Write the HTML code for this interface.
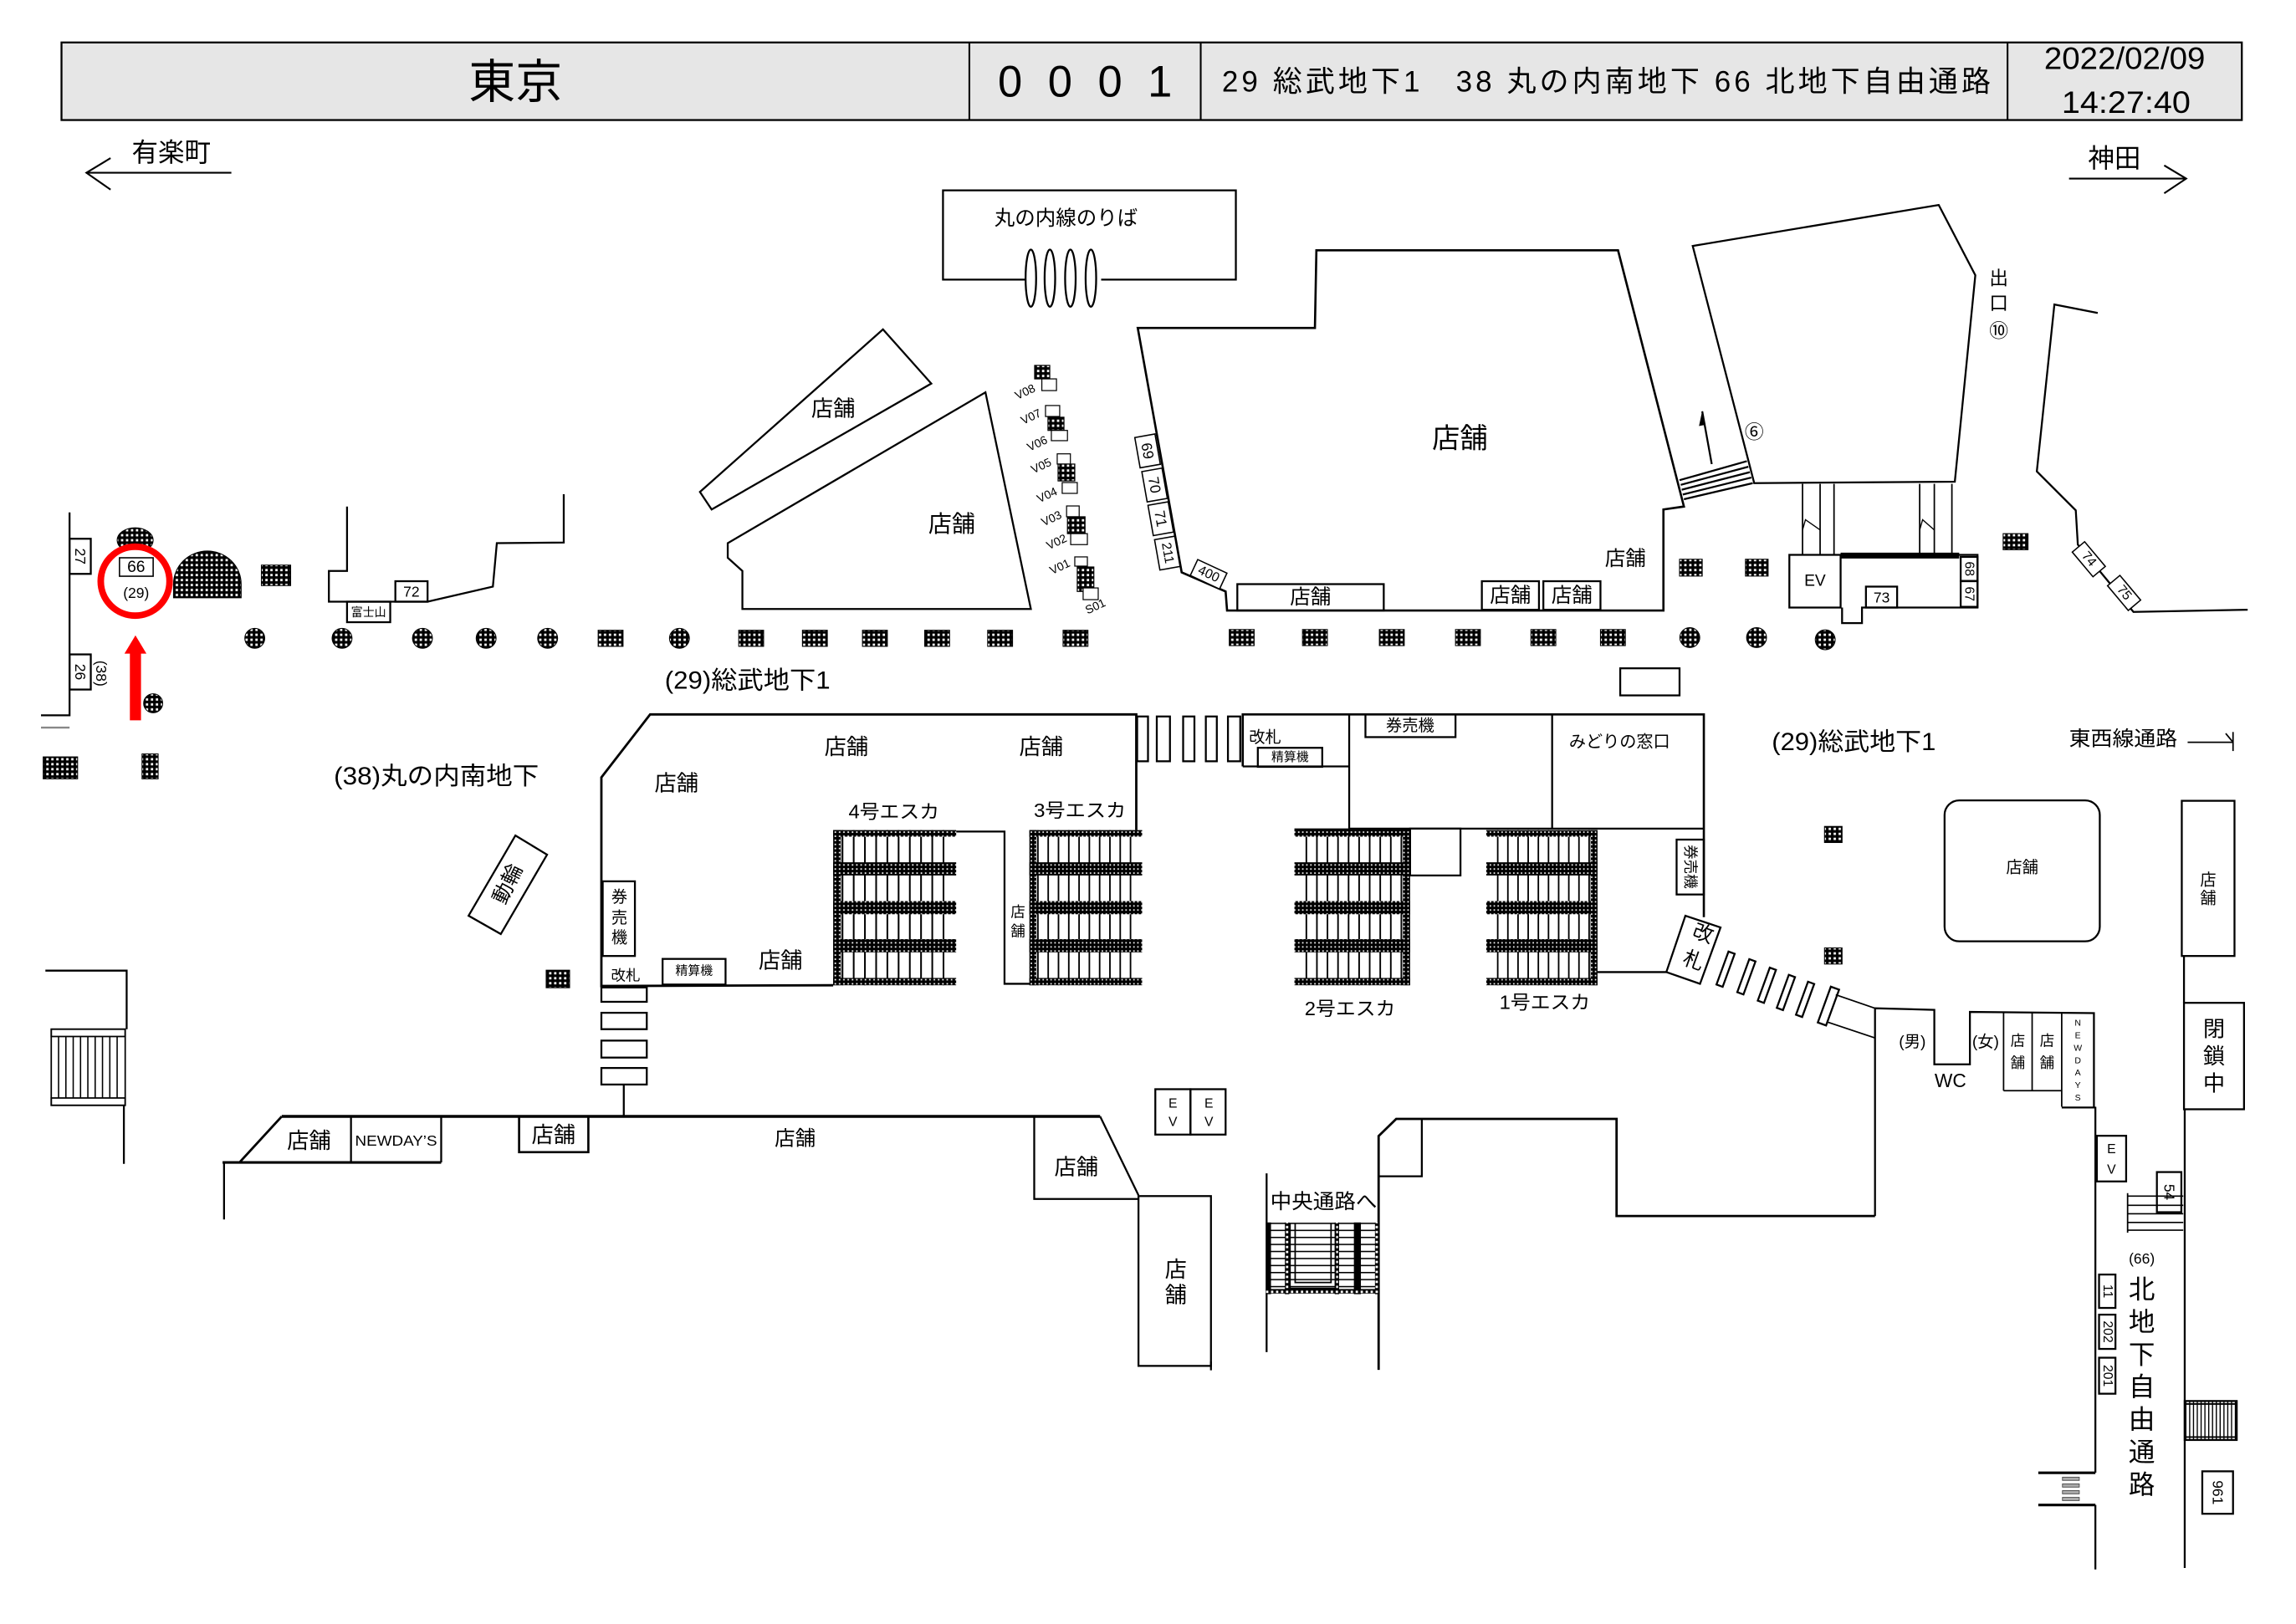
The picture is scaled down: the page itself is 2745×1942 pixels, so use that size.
<!DOCTYPE html>
<html><head><meta charset="utf-8"><style>
html,body{margin:0;padding:0;background:#fff;}
svg{display:block;}
text{font-family:"Liberation Sans","Noto Sans CJK JP",sans-serif;fill:#000;stroke:none;}
.c text{text-anchor:middle;dominant-baseline:central;}
</style></head><body>
<svg width="2745" height="1942" viewBox="0 0 1568 1109.3" preserveAspectRatio="none" xmlns="http://www.w3.org/2000/svg">
<defs>
<pattern id="dots" width="2.8" height="2.8" patternUnits="userSpaceOnUse"><rect width="2.8" height="2.8" fill="#000"/><rect x="0.9" y="0.9" width="1" height="1" fill="#fff"/></pattern>
<pattern id="dots2" width="3.4" height="3.4" patternUnits="userSpaceOnUse"><rect width="3.4" height="3.4" fill="#000"/><rect x="1" y="1" width="1.6" height="1.6" fill="#fff"/></pattern>
<pattern id="hl" width="10" height="4.8" patternUnits="userSpaceOnUse"><rect width="10" height="0.9" fill="#000"/></pattern>
<pattern id="vl2" width="2.6" height="10" patternUnits="userSpaceOnUse"><rect width="0.8" height="10" fill="#000"/></pattern>
<g id="esc">
 <rect x="0" y="0" width="5" height="106" fill="url(#dots)"/>
 <g fill="#000">
  <rect x="5.5" y="0" width="1.1" height="106"/><rect x="12.8" y="0" width="1.1" height="106"/>
  <rect x="20.1" y="0" width="1.1" height="106"/><rect x="27.4" y="0" width="1.1" height="106"/>
  <rect x="34.7" y="0" width="1.1" height="106"/><rect x="42" y="0" width="1.1" height="106"/>
  <rect x="49.3" y="0" width="1.1" height="106"/><rect x="56.6" y="0" width="1.1" height="106"/>
  <rect x="63.9" y="0" width="1.1" height="106"/><rect x="71.2" y="0" width="1.1" height="106"/>
 </g>
 <rect x="0" y="0" width="80" height="4.5" fill="url(#dots)"/>
 <rect x="0" y="22" width="80" height="9" fill="url(#dots)"/>
 <rect x="0" y="48.5" width="80" height="9" fill="url(#dots)"/>
 <rect x="0" y="74.5" width="80" height="9" fill="url(#dots)"/>
 <rect x="0" y="101" width="80" height="5" fill="url(#dots)"/>
</g>
</defs>

<!-- HEADER -->
<rect x="42" y="29" width="1489" height="53" fill="#e6e6e6" stroke="#000" stroke-width="1.3"/>
<g stroke="#000" stroke-width="1.2">
<line x1="662" y1="29" x2="662" y2="82"/><line x1="820" y1="29" x2="820" y2="82"/><line x1="1371" y1="29" x2="1371" y2="82"/>
</g>
<g class="c">
<text x="352" y="56" font-size="32">東京</text>
<text x="741" y="56" font-size="30" textLength="119" lengthAdjust="spacing">0001</text>
<text x="1097" y="56" font-size="20" textLength="525" lengthAdjust="spacing">29 総武地下1　38 丸の内南地下 66 北地下自由通路</text>
<text x="1451" y="40" font-size="21" textLength="110" lengthAdjust="spacingAndGlyphs">2022/02/09</text>
<text x="1452" y="70" font-size="21" textLength="88" lengthAdjust="spacingAndGlyphs">14:27:40</text>
</g>

<!-- direction arrows -->
<g fill="none" stroke="#000" stroke-width="1.2">
<polyline points="75.5,108 59,118 75.5,129.5"/><line x1="59" y1="118" x2="158" y2="118"/>
<polyline points="1478,113 1493,122 1478,132"/><line x1="1413" y1="122" x2="1493" y2="122"/>
</g>
<g class="c">
<text x="117" y="104" font-size="18">有楽町</text>
<text x="1444" y="108" font-size="18">神田</text>
</g>

<!-- MAP WALLS -->
<g fill="none" stroke="#000" stroke-width="1.3">
<polyline points="700,191 644,191 644,130 844,130 844,191 752,191"/>
<ellipse cx="704" cy="190" rx="3.6" ry="19.5"/><ellipse cx="717" cy="190" rx="3.6" ry="19.5"/>
<ellipse cx="731" cy="190" rx="3.6" ry="19.5"/><ellipse cx="745" cy="190" rx="3.6" ry="19.5"/>
<polygon points="478,336 603,225 636,262 486,348"/>
<polygon points="673,268 704,416 507,416 507,390 497,381 497,371"/>
<polygon stroke-width="1.5" points="777,224 898,224 899,171 1105,171 1150,346 1136,348 1136,417 838,417 837,404 807,391"/>
<rect x="845" y="399" width="100" height="18"/>
<rect x="1012" y="397" width="39" height="19.5"/>
<rect x="1054" y="397" width="39" height="19.5"/>
<line x1="1147" y1="328" x2="1193" y2="315"/><line x1="1147.8" y1="331.2" x2="1194" y2="318.8"/>
<line x1="1148.5" y1="334.5" x2="1195" y2="322.5"/><line x1="1149.2" y1="337.8" x2="1196" y2="326.2"/>
<line x1="1150" y1="341" x2="1197" y2="330"/>
<line x1="1169" y1="317" x2="1162.5" y2="281"/>
<polygon points="1156,168 1324,140 1349,188 1335,329 1198,330"/>
<line x1="1231" y1="330.5" x2="1231" y2="379" stroke-width="1"/><line x1="1243" y1="330.5" x2="1243" y2="379" stroke-width="1"/><line x1="1252.5" y1="330.5" x2="1252.5" y2="379" stroke-width="1"/>
<line x1="1311" y1="330.5" x2="1311" y2="379" stroke-width="1"/><line x1="1321" y1="330.5" x2="1321" y2="379" stroke-width="1"/><line x1="1333" y1="330.5" x2="1333" y2="379" stroke-width="1"/>
<polyline points="1231,362 1233,355 1243,362" stroke-width="0.8"/><polyline points="1311,362 1313,355 1321,362" stroke-width="0.8"/>
<rect x="1222" y="379" width="35" height="36"/>
<polyline points="1257,379 1350.5,379 1350.5,415 1271.6,415 1271.6,425.6 1258,425.6 1258,415"/>
<rect x="1274.3" y="400.7" width="21.3" height="14.3"/>
<rect x="1339" y="380.4" width="11.5" height="16.4"/>
<rect x="1339" y="397" width="11.5" height="17.5"/>
<polyline points="1432.6,213.8 1403,208 1391,322 1417.6,348.6 1419,372 1457,418 1535,416.5"/>
<rect x="1106.5" y="456.5" width="40.5" height="18.5"/>
<polyline points="237,346 237,390 224.6,390 224.6,411 292,411 336.6,400.7 339.3,371 385,370.6 385,337.6"/>
<rect x="237" y="411" width="29.5" height="14"/>
<rect x="270" y="397" width="22" height="14"/>
<polyline points="47.5,350 47.5,488.6 28,488.6"/>
<line x1="28" y1="497" x2="47.5" y2="497" stroke="#888"/>
<rect x="47.5" y="368" width="14.5" height="24"/>
<rect x="47.5" y="447" width="14.5" height="24"/>
<polygon points="352,570.7 373.6,583.8 342,638 320,625.5"/>
<polyline points="31,663 86.5,663 86.5,703"/>
<line x1="84.6" y1="755" x2="84.6" y2="795"/>
<polyline stroke-width="1.6" points="776,567 776,488 444,488 410.7,531 410.7,673.5 569,673"/>
<rect x="410.7" y="674.5" width="31" height="9.8"/>
<rect x="410.7" y="691.8" width="31" height="11.2"/>
<rect x="410.7" y="710.8" width="31" height="11.6"/>
<rect x="410.7" y="729.5" width="31" height="11.3"/>
<line x1="426" y1="741" x2="426" y2="762.6"/>
<rect x="411.6" y="602" width="22" height="51"/>
<rect x="452.5" y="655" width="43" height="17.5"/>
<polyline points="653,568 686,568 686,672 703,672"/>
<rect x="776.6" y="489.4" width="7.4" height="30.6"/><rect x="790" y="489.4" width="9" height="30.6"/>
<rect x="808" y="489.4" width="7.7" height="30.6"/><rect x="823.5" y="489.4" width="7.5" height="30.6"/>
<rect x="838.6" y="489.4" width="8.4" height="30.6"/>
<polyline stroke-width="1.5" points="848.7,523.5 848.7,488 1163.6,488 1163.6,626.5"/>
<line x1="848.7" y1="523.5" x2="921.4" y2="523.5"/>
<line x1="921.4" y1="488" x2="921.4" y2="566"/>
<line x1="1060" y1="488" x2="1060" y2="566"/>
<line x1="921.4" y1="566" x2="1163.6" y2="566"/>
<rect x="859" y="510.8" width="44" height="13"/>
<rect x="932.5" y="488" width="61.5" height="15.5"/>
<rect x="963" y="566" width="34.4" height="32"/>
<line x1="884" y1="566.5" x2="963" y2="566.5"/>
<rect x="1145" y="573.5" width="18.6" height="37.5"/>
<polygon points="1151,625.5 1175,633.5 1161,672 1138,664"/>
<line x1="1091" y1="664" x2="1138" y2="664"/>
<g transform="translate(1178.4,662) rotate(20)"><rect x="-2.2" y="-12" width="4.5" height="24"/></g>
<g transform="translate(1192.6,667.2) rotate(20)"><rect x="-2.2" y="-12" width="4.5" height="24"/></g>
<g transform="translate(1206.6,673) rotate(20)"><rect x="-2.2" y="-12" width="4.5" height="24"/></g>
<g transform="translate(1219.6,677.9) rotate(20)"><rect x="-2.2" y="-12" width="4.5" height="24"/></g>
<g transform="translate(1232.7,682.6) rotate(20)"><rect x="-2.2" y="-12" width="4.5" height="24"/></g>
<g transform="translate(1248.7,687.2) rotate(20)"><rect x="-3" y="-13" width="6" height="26"/></g>
<line x1="1253.7" y1="679.5" x2="1280.5" y2="688.7" stroke-width="1"/>
<line x1="1247.6" y1="698" x2="1280.5" y2="709" stroke-width="1"/>
<polyline points="1280.5,830.6 1280.5,688.7 1321,689.8 1321,727 1345.3,727 1345.3,691.2 1430,692 1430,756"/>
<line x1="1368.3" y1="692" x2="1368.3" y2="745" stroke-width="1"/>
<line x1="1387.8" y1="692" x2="1387.8" y2="745" stroke-width="1"/>
<line x1="1408" y1="692" x2="1408" y2="756" stroke-width="1"/>
<line x1="1368.3" y1="745" x2="1408" y2="745" stroke-width="1"/>
<line x1="1408" y1="756.5" x2="1431" y2="756.5"/>
<line x1="1431" y1="756" x2="1431" y2="1006"/>
<line x1="1431" y1="1028" x2="1431" y2="1072"/>
<polyline points="1280.5,830.6 1104,830.6 1104,764.3 953.5,764.3 941.5,776 941.5,935.7" stroke-width="1.6"/>
<polyline points="941.5,803.5 971,803.5 971,764.3"/>
<line x1="865" y1="801.5" x2="865" y2="923.6"/>
<rect x="1490" y="547" width="36" height="106"/>
<line x1="1491.5" y1="653" x2="1491.5" y2="685"/>
<rect x="1491.5" y="685" width="41" height="72.7"/>
<line x1="1492" y1="757.7" x2="1492" y2="1071"/>
<rect x="1432" y="775.8" width="20" height="31.2"/>
<rect x="1473" y="800.6" width="16.7" height="27.4"/>
<line x1="1453" y1="815" x2="1453" y2="842" stroke-width="1"/>
<line x1="1453" y1="817" x2="1491" y2="817" stroke-width="0.9"/><line x1="1453" y1="823.3" x2="1491" y2="823.3" stroke-width="0.9"/>
<line x1="1453" y1="829.1" x2="1491" y2="829.1" stroke-width="0.9"/><line x1="1453" y1="835" x2="1491" y2="835" stroke-width="0.9"/>
<line x1="1453" y1="840.3" x2="1491" y2="840.3" stroke-width="0.9"/>
<rect x="1492" y="957" width="35.5" height="26.6" fill="url(#vl2)"/>
<rect x="1504" y="1005" width="21" height="29"/>
<rect x="1433.5" y="870.6" width="11.2" height="22.8"/>
<rect x="1433.5" y="898" width="11.2" height="23.4"/>
<rect x="1433.5" y="927.4" width="11.2" height="24.6"/>
<line x1="1392" y1="1006" x2="1431" y2="1006" stroke-width="1.8"/>
<line x1="1392" y1="1028" x2="1431" y2="1028" stroke-width="1.8"/>
<line x1="1494" y1="507" x2="1525" y2="507" stroke-width="1"/>
<line x1="1525" y1="500" x2="1525" y2="513" stroke-width="1"/>
<line x1="1520" y1="501" x2="1525" y2="507" stroke-width="1"/>
<rect x="1328" y="546.7" width="106" height="96.3" rx="10"/>
<line x1="192.4" y1="762.6" x2="751.3" y2="762.6" stroke-width="2"/>
<line x1="192.4" y1="762.6" x2="164" y2="793.5" stroke-width="1.6"/>
<line x1="152" y1="794" x2="301.3" y2="794" stroke-width="1.8"/>
<line x1="239.7" y1="762.6" x2="239.7" y2="794"/>
<line x1="301.3" y1="762.6" x2="301.3" y2="794"/>
<line x1="153" y1="794" x2="153" y2="833"/>
<rect x="354.5" y="762.6" width="47.3" height="24.4" stroke-width="1.5"/>
<polyline points="706.3,763 706.3,819 777.5,819"/>
<line x1="751.3" y1="762.6" x2="777.5" y2="816.4"/>
<rect x="777.5" y="817" width="49.5" height="116"/>
<line x1="827" y1="930" x2="827" y2="936"/>
<rect x="789" y="744" width="24" height="31"/>
<rect x="813" y="744" width="24" height="31"/>
</g>

<rect x="1257" y="377.5" width="81" height="4" fill="#000"/>
<g fill="#aaa" stroke="#444" stroke-width="0.5">
<rect x="1408.5" y="1009" width="11.5" height="2.2"/><rect x="1408.5" y="1013.6" width="11.5" height="2.2"/>
<rect x="1408.5" y="1018.2" width="11.5" height="2.2"/><rect x="1408.5" y="1022.8" width="11.5" height="2.2"/>
</g>
<g fill="none" stroke="#000" stroke-width="1.1">
<rect x="1492" y="957" width="35.5" height="26.6"/>
<line x1="1492" y1="959" x2="1527.5" y2="959"/><line x1="1492" y1="981.6" x2="1527.5" y2="981.6"/>
</g>
<g>
<rect x="35" y="703" width="50.5" height="52" fill="#fff" stroke="#000" stroke-width="1"/>
<rect x="35" y="703" width="50.5" height="5" fill="none" stroke="#000" stroke-width="1"/>
<rect x="35" y="750" width="50.5" height="5" fill="none" stroke="#000" stroke-width="1"/>
<g stroke="#000" stroke-width="0.9">
<line x1="40" y1="708" x2="40" y2="750"/><line x1="45" y1="708" x2="45" y2="750"/><line x1="50" y1="708" x2="50" y2="750"/>
<line x1="55" y1="708" x2="55" y2="750"/><line x1="60" y1="708" x2="60" y2="750"/><line x1="65" y1="708" x2="65" y2="750"/>
<line x1="70" y1="708" x2="70" y2="750"/><line x1="75" y1="708" x2="75" y2="750"/><line x1="80" y1="708" x2="80" y2="750"/>
</g>
</g>
<rect x="866" y="835" width="75" height="48.5" fill="url(#hl)"/>
<g fill="#000">
<rect x="864.5" y="835" width="3.5" height="49"/>
<rect x="924.6" y="835" width="4.8" height="49"/>
</g>
<g fill="url(#dots2)">
<rect x="877.5" y="835" width="3" height="49"/>
<rect x="911.5" y="835" width="3" height="49"/>
<rect x="939" y="835" width="2.5" height="49"/>
<rect x="864.5" y="880.5" width="77" height="3"/>
</g>
<g fill="none" stroke="#000" stroke-width="1">
<polyline points="881,836 881,880 912,880 912,836"/>
<polyline points="884.5,836 884.5,876 909,876 909,836"/>
</g>

<use href="#esc" transform="translate(569,567) scale(1.05,1)"/>
<use href="#esc" transform="translate(703,567) scale(0.9625,1)"/>
<use href="#esc" transform="translate(963,567) scale(-0.9875,1)"/>
<use href="#esc" transform="translate(1091,567) scale(-0.95,1)"/>

<g stroke="#000" stroke-width="0.7">
<rect x="706.6" y="249.6" width="10.3" height="9.2" fill="url(#dots2)"/><rect x="711.5" y="258.8" width="10" height="8" fill="#fff"/>
<rect x="714" y="277" width="9.7" height="7.5" fill="#fff"/><rect x="715.7" y="285" width="10.9" height="9" fill="url(#dots2)"/><rect x="718" y="294" width="11" height="7" fill="#fff"/>
<rect x="722" y="310" width="9" height="7" fill="#fff"/><rect x="722.6" y="317" width="11.4" height="11.5" fill="url(#dots2)"/><rect x="725.4" y="329.6" width="10.3" height="7.4" fill="#fff"/>
<rect x="728.4" y="345.6" width="8.6" height="7.4" fill="#fff"/><rect x="729" y="353" width="12" height="11.5" fill="url(#dots2)"/><rect x="731.2" y="364.5" width="11.4" height="7.5" fill="#fff"/>
<rect x="734" y="380.4" width="8.6" height="6.3" fill="#fff"/><rect x="735.7" y="387.3" width="11.3" height="16.7" fill="url(#dots2)"/><rect x="739.7" y="401.6" width="10.3" height="8" fill="#fff"/>
</g>

<g fill="#fff" stroke="#000" stroke-width="0.9">
<rect transform="translate(783.7,308) rotate(-10)" x="-7" y="-10.5" width="14" height="21"/>
<rect transform="translate(788.5,331.3) rotate(-10)" x="-7" y="-10.5" width="14" height="21"/>
<rect transform="translate(792.7,354.3) rotate(-10)" x="-7" y="-10.5" width="14" height="21"/>
<rect transform="translate(797.2,377.8) rotate(-10)" x="-7" y="-10.5" width="14" height="21"/>
<rect transform="translate(825.4,392.3) rotate(25)" x="-11" y="-6" width="22" height="12"/>
<rect transform="translate(1426.5,382) rotate(50)" x="-11" y="-5.5" width="22" height="11"/>
<rect transform="translate(1450.6,405) rotate(50)" x="-11" y="-5.5" width="22" height="11"/>
</g>

<g stroke="#000" stroke-width="0.6" fill="url(#dots2)">
<circle cx="174" cy="436" r="6.8"/><circle cx="233.6" cy="436" r="6.8"/><circle cx="288.5" cy="436" r="6.8"/>
<circle cx="332" cy="436" r="6.8"/><circle cx="374" cy="436" r="6.8"/><circle cx="464" cy="436" r="6.8"/>
<circle cx="1154" cy="435.5" r="6.8"/><circle cx="1199.6" cy="435.5" r="6.8"/><circle cx="1246.5" cy="437" r="6.8"/>
<circle cx="104.6" cy="480.4" r="6.5"/>
<rect x="408.5" y="430.5" width="17" height="11"/><rect x="504.5" y="430.5" width="17" height="11"/>
<rect x="548" y="430.5" width="17" height="11"/><rect x="589" y="430.5" width="17" height="11"/>
<rect x="631.5" y="430.5" width="17" height="11"/><rect x="674.5" y="430.5" width="17" height="11"/>
<rect x="726" y="430.5" width="17" height="11"/>
<rect x="839.5" y="430" width="17" height="11"/><rect x="889.5" y="430" width="17" height="11"/>
<rect x="942" y="430" width="17" height="11"/><rect x="994" y="430" width="17" height="11"/>
<rect x="1045.5" y="430" width="17" height="11"/><rect x="1093" y="430" width="17" height="11"/>
<rect x="178.5" y="386" width="20" height="14"/>
<rect x="1147" y="382" width="15.5" height="11.5"/><rect x="1192" y="382" width="15.5" height="11.5"/>
<rect x="1368" y="364.5" width="17" height="11"/>
<rect x="29.5" y="517" width="23.5" height="15"/><rect x="97" y="515" width="11" height="17"/>
<rect x="373" y="662.7" width="16" height="12"/>
<rect x="1246" y="564.5" width="12" height="11"/><rect x="1246" y="647.5" width="12" height="11"/>
<ellipse cx="92.3" cy="369" rx="12.3" ry="8.5"/>
<path d="M118.5,408.3 L118.5,399 A23,22.5 0 0 1 164.7,399 L164.7,408.3 Z"/>
</g>

<circle cx="92.3" cy="397" r="23.5" fill="#fff" stroke="#f00" stroke-width="4.5"/>
<rect x="81.6" y="381" width="23" height="12.6" fill="#fff" stroke="#000" stroke-width="0.9"/>
<polygon points="92.5,434 100,446.5 96.3,446.5 96.3,492 88.7,492 88.7,446.5 85,446.5" fill="#f00"/>

<g class="c">
<text x="728" y="149.5" font-size="14">丸の内線のりば</text>
<text x="569" y="279" font-size="15">店舗</text>
<text x="650" y="358" font-size="16">店舗</text>
<text x="997" y="300" font-size="19">店舗</text>
<text x="1110" y="382" font-size="14">店舗</text>
<text x="895" y="408" font-size="14">店舗</text>
<text x="1031.5" y="407" font-size="14">店舗</text>
<text x="1073.5" y="407" font-size="14">店舗</text>
<text x="1198" y="295" font-size="13">⑥</text>
<text x="1365" y="190" font-size="13">出</text>
<text x="1365" y="207" font-size="13">口</text>
<text x="1365" y="226" font-size="13">⑩</text>
<text x="1239.5" y="397" font-size="11">EV</text>
<text x="1285" y="408" font-size="10">73</text>
<text x="1344.7" y="388.6" font-size="9" transform="rotate(90 1344.7 388.6)">68</text>
<text x="1344.7" y="405.7" font-size="9" transform="rotate(90 1344.7 405.7)">67</text>
<text x="1426.5" y="382" font-size="9" transform="rotate(50 1426.5 382)">74</text>
<text x="1450.6" y="405" font-size="9" transform="rotate(50 1450.6 405)">75</text>
<text x="783.7" y="308" font-size="10" transform="rotate(80 783.7 308)">69</text>
<text x="788.5" y="331.3" font-size="10" transform="rotate(80 788.5 331.3)">70</text>
<text x="792.7" y="354.3" font-size="10" transform="rotate(80 792.7 354.3)">71</text>
<text x="797.2" y="377.8" font-size="9" transform="rotate(80 797.2 377.8)">211</text>
<text x="825.4" y="392.3" font-size="9" transform="rotate(25 825.4 392.3)">400</text>
<text x="700" y="267.5" font-size="8" transform="rotate(-25 700 267.5)">V08</text>
<text x="704" y="284.5" font-size="8" transform="rotate(-25 704 284.5)">V07</text>
<text x="708.3" y="302.8" font-size="8" transform="rotate(-25 708.3 302.8)">V06</text>
<text x="711" y="318" font-size="8" transform="rotate(-25 711 318)">V05</text>
<text x="715" y="338" font-size="8" transform="rotate(-25 715 338)">V04</text>
<text x="718" y="354" font-size="8" transform="rotate(-25 718 354)">V03</text>
<text x="721.5" y="370" font-size="8" transform="rotate(-25 721.5 370)">V02</text>
<text x="723.7" y="387" font-size="8" transform="rotate(-25 723.7 387)">V01</text>
<text x="748" y="414" font-size="8" transform="rotate(-25 748 414)">S01</text>
<text x="251.7" y="418" font-size="8">富士山</text>
<text x="281" y="404" font-size="10">72</text>
<text x="54.7" y="380" font-size="10" transform="rotate(90 54.7 380)">27</text>
<text x="54.7" y="459" font-size="10" transform="rotate(90 54.7 459)">26</text>
<text x="69" y="460" font-size="10" transform="rotate(90 69 460)">(38)</text>
<text x="93" y="387.5" font-size="11">66</text>
<text x="93" y="405" font-size="10">(29)</text>
<text x="510.5" y="465" font-size="17" textLength="113" lengthAdjust="spacingAndGlyphs">(29)総武地下1</text>
<text x="298" y="530.5" font-size="17" textLength="140" lengthAdjust="spacingAndGlyphs">(38)丸の内南地下</text>
<text x="347" y="604" font-size="14" transform="rotate(-64 347 604)">動輪</text>
<text x="462" y="535" font-size="15">店舗</text>
<text x="578" y="510" font-size="15">店舗</text>
<text x="711" y="510" font-size="15">店舗</text>
<text x="533" y="656" font-size="15">店舗</text>
<text x="610.5" y="554.5" font-size="13" textLength="62" lengthAdjust="spacingAndGlyphs">4号エスカ</text>
<text x="737.5" y="553.5" font-size="13" textLength="63" lengthAdjust="spacingAndGlyphs">3号エスカ</text>
<text x="922" y="689" font-size="13" textLength="62" lengthAdjust="spacingAndGlyphs">2号エスカ</text>
<text x="1055" y="684.5" font-size="13" textLength="62" lengthAdjust="spacingAndGlyphs">1号エスカ</text>
<text x="695.2" y="623" font-size="10">店</text>
<text x="695.2" y="636" font-size="10">舗</text>
<text x="423" y="613.3" font-size="11">券</text>
<text x="423" y="627.5" font-size="11">売</text>
<text x="423" y="640.8" font-size="11">機</text>
<text x="427.3" y="666.3" font-size="10">改札</text>
<text x="474" y="663.5" font-size="8.5">精算機</text>
<text x="864" y="504" font-size="11">改札</text>
<text x="881" y="517.5" font-size="8.5">精算機</text>
<text x="963" y="496" font-size="11">券売機</text>
<text x="1106" y="507" font-size="11.5">みどりの窓口</text>
<text x="1154.3" y="592" font-size="10" transform="rotate(90 1154.3 592)">券売機</text>
<text x="1163" y="638" font-size="14" transform="rotate(20 1163 638)">改</text>
<text x="1156.5" y="656.5" font-size="14" transform="rotate(20 1156.5 656.5)">札</text>
<text x="1266" y="507" font-size="17" textLength="112" lengthAdjust="spacingAndGlyphs">(29)総武地下1</text>
<text x="1450" y="505" font-size="14" textLength="74" lengthAdjust="spacingAndGlyphs">東西線通路</text>
<text x="1381" y="593" font-size="11">店舗</text>
<text x="1508" y="601.5" font-size="11">店</text>
<text x="1508" y="614" font-size="11">舗</text>
<text x="1306" y="712" font-size="11">(男)</text>
<text x="1356" y="712" font-size="11">(女)</text>
<text x="1378" y="711" font-size="10">店</text>
<text x="1378" y="726" font-size="10">舗</text>
<text x="1398" y="711" font-size="10">店</text>
<text x="1398" y="726" font-size="10">舗</text>
<text x="1419" y="699" font-size="6">N</text><text x="1419" y="707.5" font-size="6">E</text>
<text x="1419" y="716" font-size="6">W</text><text x="1419" y="724.5" font-size="6">D</text>
<text x="1419" y="733" font-size="6">A</text><text x="1419" y="741.5" font-size="6">Y</text>
<text x="1419" y="750" font-size="6">S</text>
<text x="1332" y="738" font-size="13">WC</text>
<text x="1512" y="703" font-size="15">閉</text>
<text x="1512" y="721.5" font-size="15">鎖</text>
<text x="1512" y="740" font-size="15">中</text>
<text x="1442" y="785" font-size="9">E</text>
<text x="1442" y="799" font-size="9">V</text>
<text x="1481.4" y="814.3" font-size="10" transform="rotate(90 1481.4 814.3)">54</text>
<text x="1462.7" y="859.6" font-size="10">(66)</text>
<text x="1462.7" y="880.6" font-size="18">北</text>
<text x="1462.7" y="902.8" font-size="18">地</text>
<text x="1462.7" y="925" font-size="18">下</text>
<text x="1462.7" y="947.2" font-size="18">自</text>
<text x="1462.7" y="969.4" font-size="18">由</text>
<text x="1462.7" y="991.6" font-size="18">通</text>
<text x="1462.7" y="1013.8" font-size="18">路</text>
<text x="1439.1" y="882" font-size="9" transform="rotate(90 1439.1 882)">11</text>
<text x="1439.1" y="909.7" font-size="9" transform="rotate(90 1439.1 909.7)">202</text>
<text x="1439.1" y="939.7" font-size="9" transform="rotate(90 1439.1 939.7)">201</text>
<text x="1514.5" y="1019.5" font-size="10" transform="rotate(90 1514.5 1019.5)">961</text>
<text x="904" y="821" font-size="14" textLength="73" lengthAdjust="spacingAndGlyphs">中央通路へ</text>
<text x="801" y="754" font-size="9">E</text>
<text x="801" y="766.5" font-size="9">V</text>
<text x="825.6" y="754" font-size="9">E</text>
<text x="825.6" y="766.5" font-size="9">V</text>
<text x="211" y="779" font-size="15">店舗</text>
<text x="270.5" y="779" font-size="10" textLength="56" lengthAdjust="spacingAndGlyphs">NEWDAY’S</text>
<text x="378" y="775" font-size="15">店舗</text>
<text x="543" y="778" font-size="14">店舗</text>
<text x="735" y="797" font-size="15">店舗</text>
<text x="803" y="867" font-size="15">店</text>
<text x="803" y="884.5" font-size="15">舗</text>
</g>
<polygon points="1162.5,280.5 1160.3,291 1164.8,290.2" fill="#000"/>
</svg>
</body></html>
